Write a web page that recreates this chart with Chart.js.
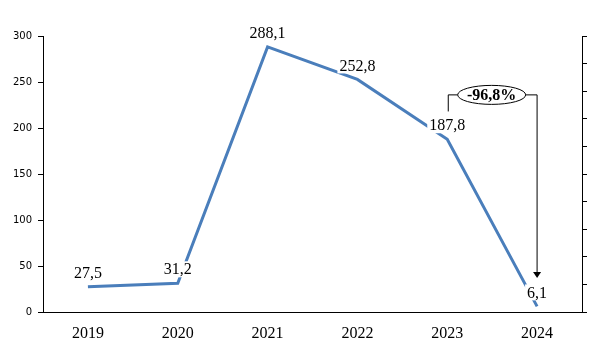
<!DOCTYPE html>
<html>
<head>
<meta charset="utf-8">
<script src="https://cdn.jsdelivr.net/npm/chart.js@4"></script>
<style>
  html, body { margin: 0; padding: 0; background: #fff; }
  #wrap { width: 604px; height: 349px; }
</style>
</head>
<body>
<div id="wrap"><canvas id="lineChart"></canvas></div>
<script>
var years = ['2019', '2020', '2021', '2022', '2023', '2024'];
var values = [27.5, 31.2, 288.1, 252.8, 187.8, 6.1];
var changeLabel = '-96,8%';

function fmt(v) {
    return v.toFixed(1).replace('.', ',');
}

// labels with white box on top of the line
var valueLabels = {
    id: 'valueLabels',
    afterDatasetsDraw: function(chart) {
        var ctx = chart.ctx;
        var meta = chart.getDatasetMeta(0);
        ctx.save();
        ctx.font = '16px "Liberation Serif"';
        ctx.textAlign = 'center';
        ctx.textBaseline = 'middle';
        meta.data.forEach(function(pt, i) {
            var txt = fmt(values[i]);
            var w = ctx.measureText(txt).width;
            var y = pt.y - 14;
            ctx.fillStyle = '#fff';
            ctx.fillRect(pt.x - w / 2 - 2, y - 8, w + 4, 16);
            ctx.fillStyle = '#000';
            ctx.fillText(txt, pt.x, y + 1);
        });
        ctx.restore();
    }
};

// bracket with the change between the last two years
var changeBracket = {
    id: 'changeBracket',
    afterDraw: function(chart) {
        var ctx = chart.ctx;
        var xs = chart.scales.x, ys = chart.scales.y;
        var x1 = xs.getPixelForValue(4) + 1;
        var x2 = xs.getPixelForValue(5);
        var top = ys.getPixelForValue(236);
        var yStart = ys.getPixelForValue(218);
        var yEnd = ys.getPixelForValue(37);
        var cx = (x1 + x2) / 2 - 1, rx = 34, ry = 9.5;
        ctx.save();
        ctx.strokeStyle = '#000';
        ctx.lineWidth = 1;
        ctx.beginPath();
        ctx.moveTo(x1, yStart);
        ctx.lineTo(x1, top);
        ctx.lineTo(cx - rx, top);
        ctx.moveTo(cx + rx, top);
        ctx.lineTo(x2, top);
        ctx.lineTo(x2, yEnd - 5);
        ctx.stroke();
        ctx.fillStyle = '#000';
        ctx.beginPath();
        ctx.moveTo(x2 - 4, yEnd - 6);
        ctx.lineTo(x2 + 4, yEnd - 6);
        ctx.lineTo(x2, yEnd);
        ctx.closePath();
        ctx.fill();
        ctx.fillStyle = '#fff';
        ctx.beginPath();
        ctx.ellipse(cx, top, rx, ry, 0, 0, Math.PI * 2);
        ctx.fill();
        ctx.stroke();
        ctx.fillStyle = '#000';
        ctx.font = 'bold 16px "Liberation Serif"';
        ctx.textAlign = 'center';
        ctx.textBaseline = 'middle';
        ctx.fillText(changeLabel, cx, top + 1);
        ctx.restore();
    }
};

document.addEventListener("DOMContentLoaded", function() {
    var ctx = document.getElementById('lineChart').getContext('2d');
    var lineChart = new Chart(ctx, {
        type: 'line',
        data: {
            labels: years,
            datasets: [{
                data: values,
                borderColor: '#4a7ebb',
                borderWidth: 3,
                pointRadius: 0,
                tension: 0,
                fill: false
            }]
        },
        options: {
            responsive: true,
            maintainAspectRatio: false,
            animation: false,
            layout: { padding: { top: 36, left: 0, right: 0, bottom: 0 } },
            plugins: {
                legend: { display: false },
                tooltip: { enabled: false }
            },
            scales: {
                x: {
                    offset: true,
                    grid: { display: false },
                    border: { display: true, color: '#000', width: 1 },
                    ticks: {
                        color: '#000',
                        font: { family: '"Liberation Serif"', size: 16 },
                        padding: 4,
                        maxRotation: 0
                    },
                    afterFit: function(s) { s.height = 37; }
                },
                y: {
                    min: 0,
                    max: 300,
                    ticks: {
                        stepSize: 50,
                        color: '#000',
                        font: { family: '"DejaVu Sans"', size: 10 },
                        padding: 6
                    },
                    grid: { drawOnChartArea: false, tickLength: 5, color: '#000' },
                    border: { display: true, color: '#000', width: 1 },
                    afterFit: function(s) { s.width = 43; }
                },
                y2: {
                    position: 'right',
                    min: 0,
                    max: 10,
                    ticks: { stepSize: 1, display: false },
                    grid: { drawOnChartArea: false, tickLength: 5, color: '#000' },
                    border: { display: true, color: '#000', width: 1 },
                    afterFit: function(s) { s.width = 22; }
                }
            }
        },
        plugins: [valueLabels, changeBracket]
    });
});
</script>
</body>
</html>
